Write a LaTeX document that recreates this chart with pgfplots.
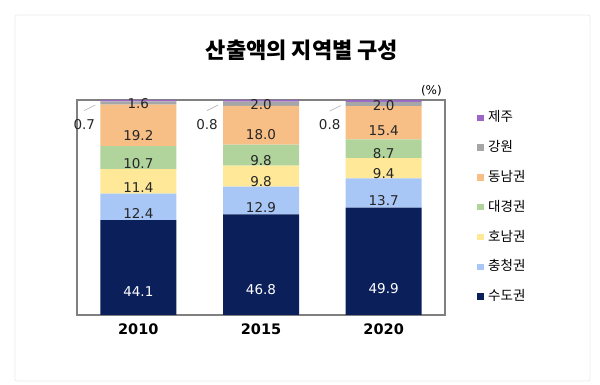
\documentclass[border=0pt]{standalone}
\usepackage{pgfplots}
\pgfplotsset{compat=1.18}
\usepackage{fontspec}
\setmainfont{DejaVu Sans}
\newfontfamily\kr{Noto Sans CJK KR}
\definecolor{cNavy}{HTML}{0B1F5B}
\definecolor{cBlue}{HTML}{A9C7F6}
\definecolor{cYellow}{HTML}{FFE999}
\definecolor{cGreen}{HTML}{B1D49C}
\definecolor{cOrange}{HTML}{F7BF85}
\definecolor{cGray}{HTML}{A6A6A6}
\definecolor{cPurple}{HTML}{9B67C6}
\makeatletter
\pgfplotsset{
  calculate offset/.code={%
    \pgfkeys{/pgf/fpu=true,/pgf/fpu/output format=fixed}%
    \pgfmathsetmacro\testmacro{\pgfplotspointmeta*0.5375}%
    \pgfkeys{/pgf/fpu=false}%
  },
  midlabel/.style={every node near coord/.append style={/pgfplots/calculate offset, yshift=-\testmacro pt}}
}
\makeatother
\begin{document}
\begin{tikzpicture}
\path[use as bounding box] (0,0) rectangle (600pt,385pt);
\draw[black!8, line width=0.8pt, rounded corners=2pt] (15pt,4pt) rectangle (590pt,370pt);
\node[font=\kr\bfseries\fontsize{22}{22}\selectfont] at (302pt,335pt) {산출액의 지역별 구성};
\begin{axis}[
  at={(77pt,70pt)}, anchor=south west,
  width=368pt, height=215pt, scale only axis,
  xmin=-0.5, xmax=2.5, ymin=0, ymax=100,
  clip=false,
  ybar stacked, bar width=76pt,
  xtick=data, xticklabels={2010,2015,2020},
  ytick=\empty, major tick length=0pt,
  x tick label style={font=\bfseries\fontsize{14.5}{14.5}\selectfont, yshift=-5pt},
  axis line style={draw=gray, line width=1.2pt},
  point meta=rawy,
  nodes near coords={\pgfmathprintnumber[fixed,fixed zerofill,precision=1,assume math mode=true]{\pgfplotspointmeta}},
  nodes near coords style={font=\fontsize{13.5}{13.5}\selectfont, anchor=center, text=black!85},
  reverse legend,
  legend image code/.code={\fill[#1] (0pt,-3.2pt) rectangle (6.4pt,3.2pt);},
  legend cell align=left,
  legend style={draw=none, fill=none, at={(1.079,0.955)}, anchor=north west,
    font=\kr\fontsize{13.5}{13.5}\selectfont,
    nodes={inner sep=0pt, text height=10pt, text depth=2pt},
    row sep=17.8pt, /tikz/every odd column/.append style={column sep=4.5pt}},
]
\addplot[fill=cNavy, draw=none, midlabel, nodes near coords style={text=white}] coordinates {(0,44.1) (1,46.8) (2,49.9)};
\addplot[fill=cBlue, draw=none, midlabel] coordinates {(0,12.4) (1,12.9) (2,13.7)};
\addplot[fill=cYellow, draw=none, midlabel] coordinates {(0,11.4) (1,9.8) (2,9.4)};
\addplot[fill=cGreen, draw=none, midlabel] coordinates {(0,10.7) (1,9.8) (2,8.7)};
\addplot[fill=cOrange, draw=none, midlabel] coordinates {(0,19.2) (1,18.0) (2,15.4)};
\addplot[fill=cGray, draw=none, midlabel] coordinates {(0,1.6) (1,2.0) (2,2.0)};
\addplot[fill=cPurple, draw=none,
  every node near coord/.append style={xshift=-54pt, yshift=-24pt,
    append after command={([yshift=14pt]\tikzlastnode.center) edge[draw=black!25, line width=0.7pt] ++(11pt,5.5pt)}}]
  coordinates {(0,0.7) (1,0.8) (2,0.8)};
\legend{수도권,충청권,호남권,대경권,동남권,강원,제주}
\node[font=\fontsize{12}{12}\selectfont, anchor=south east, inner sep=1pt] at (rel axis cs:1,1) [xshift=-2pt, yshift=3pt] {(\%)};
\end{axis}
\end{tikzpicture}
\end{document}
